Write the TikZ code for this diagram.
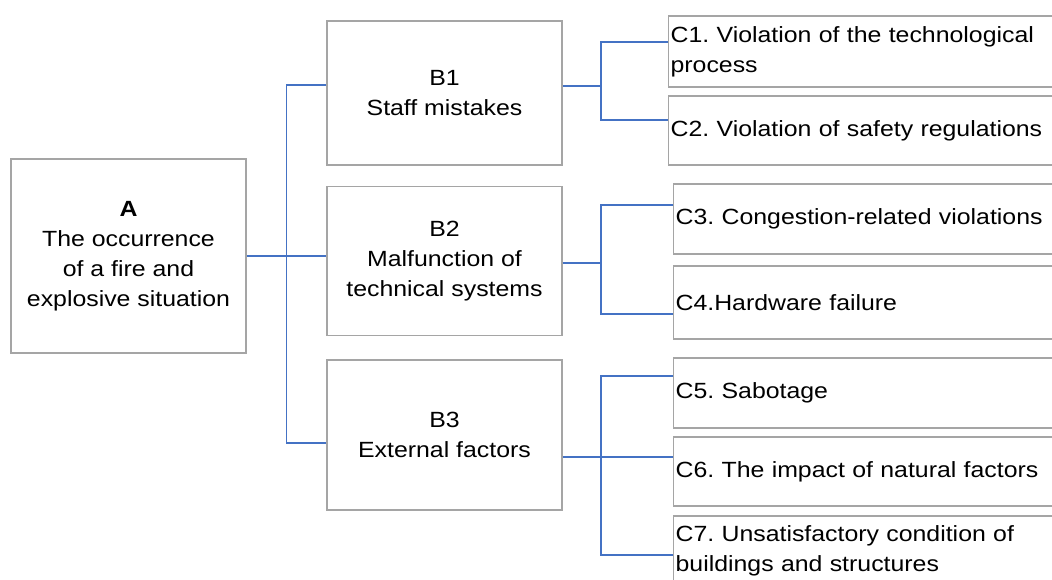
\documentclass[tikz,border=0pt]{standalone}
\usepackage{fontspec}
\setmainfont{Liberation Sans}[FakeStretch=1.13]
\usepackage{xcolor}
\usepackage{tikz}
\usetikzlibrary{positioning,calc}

\definecolor{linkblue}{RGB}{68,114,196}
\definecolor{boxgray}{RGB}{165,165,165}

\tikzset{
  box/.style={draw=boxgray, line width=1.2pt, rectangle, inner xsep=2pt, inner ysep=0pt,
    font=\fontsize{22}{30}\selectfont\frenchspacing},
  rootbox/.style={box, align=center, minimum width=235pt, minimum height=194pt},
  causebox/.style={box, align=center, minimum width=235pt},
  leafbox/.style={box, align=left, anchor=west, text width=400pt},
  link/.style={draw=linkblue, line width=1.2pt}
}

\begin{document}
\begin{tikzpicture}[x=1pt, y=-1pt]
            \path[use as bounding box] (0,0) rectangle (1052,579);
            \clip (0,0) rectangle (1052,579);

            \node[rootbox] (A) at (128.5,256) {\textbf{A}\\The occurrence\\of a fire and\\explosive situation};

            \node[causebox, minimum height=144pt] (B1) at (444.5,93) {B1\\Staff mistakes};
            \node[causebox, minimum height=149pt] (B2) at (444.5,261) {B2\\Malfunction of\\technical systems};
            \node[causebox, minimum height=150pt] (B3) at (444.5,435) {B3\\External factors};

            \node[leafbox, minimum height=71pt] (C1) at (668,51.5) {C1. Violation of the technological\\process};
            \node[leafbox, minimum height=69pt] (C2) at (668,130.5) {C2. Violation of safety regulations};
            \node[leafbox, minimum height=70pt] (C3) at (673,219) {C3. Congestion-related violations};
            \node[leafbox, minimum height=73pt] (C4) at (673,302.5) {C4.Hardware failure};
            \node[leafbox, minimum height=70pt] (C5) at (673,393) {C5. Sabotage};
            \node[leafbox, minimum height=69pt] (C6) at (673,471.5) {C6. The impact of natural factors};
            \node[leafbox, minimum height=70pt] (C7) at (673,551) {C7. Unsatisfactory condition of\\buildings and structures};

            \draw[link] (A.east) -- (A.east -| B2.west);
            \draw[link] ([yshift=8pt]B1.west) -- ++(-40,0) |- ([yshift=-8pt]B3.west);

            \draw[link] ([yshift=7pt]B1.east) -- ++(39,0);
            \draw[link] ([yshift=9.5pt]C1.west) -- ++(-67,0) |- ([yshift=10.5pt]C2.west);
            \draw[link] ([yshift=-2pt]B2.east) -- ++(39,0);
            \draw[link] ([yshift=14pt]C3.west) -- ++(-72,0) |- ([yshift=-11.5pt]C4.west);
            \draw[link] ([yshift=-22pt]B3.east) -- ([yshift=14.5pt]C6.west);
            \draw[link] ([yshift=17pt]C5.west) -- ++(-72,0) |- ([yshift=-4pt]C7.west);
\end{tikzpicture}
\end{document}
